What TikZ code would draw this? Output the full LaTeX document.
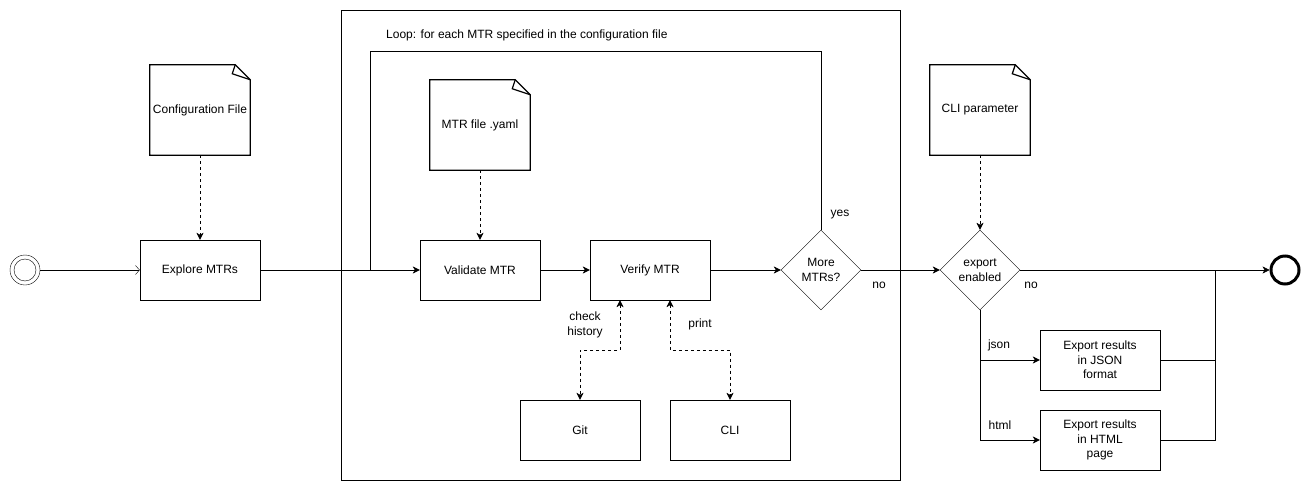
\documentclass[tikz,border=0pt]{standalone}
\usepackage{fontspec}
\setmainfont{Liberation Sans}
\usetikzlibrary{arrows.meta,shapes.geometric,calc}
\newcommand\drawdoc[1]{%
  \draw[line width=1.2pt] (#1.south west) -- (#1.north west) -- ([xshift=-15pt]#1.north east) -- ([yshift=-15pt]#1.north east) -- (#1.south east) -- cycle;
  \draw[line width=1.2pt] ([xshift=-15pt]#1.north east) -- ([xshift=-18pt,yshift=-9pt]#1.north east) -- ([yshift=-15pt]#1.north east);}
\begin{document}
\begin{tikzpicture}[x=1bp,y=-1bp,
  every node/.style={font=\fontsize{12bp}{14.4bp}\selectfont},
  box/.style={draw, minimum width=120bp, minimum height=60bp, inner sep=0pt, align=center},
  doc/.style={minimum width=100bp, minimum height=90bp, inner sep=0pt, align=center},
  dec/.style={draw, diamond, minimum width=80bp, minimum height=80bp, inner sep=0pt},
  lbl/.style={inner sep=0pt, align=center},
  arr/.style={-{Stealth[length=7pt,width=7pt,inset=2pt]}},
  dasharr/.style={dashed, -{Stealth[length=7pt,width=7pt,inset=2pt]}},
  bidash/.style={dashed, {Stealth[length=7pt,width=7pt,inset=2pt]}-{Stealth[length=7pt,width=7pt,inset=2pt]}},
  openarr/.style={-{Straight Barb[length=4pt,width=9pt]}}
]
\useasboundingbox (0,0) rectangle (1311,491);

% loop frame
\node[draw, minimum width=559bp, minimum height=470bp, inner sep=0pt] (frame) at (620.5,245) {};
\node[lbl, anchor=west] (looplbl) at (386,35) {Loop: for each MTR specified in the configuration file};

% start / end
\node[draw, circle, minimum size=30bp, inner sep=0pt] (start) at (25,270) {};
\node[draw, circle, minimum size=22bp, inner sep=0pt] (startin) at (25,270) {};
\node[draw, circle, line width=3pt, minimum size=28bp, inner sep=0pt] (end) at (1285,270) {};

% documents
\node[doc] (cfg) at (200,110) {Configuration File};
\drawdoc{cfg}
\node[doc] (yaml) at (480,125) {MTR file .yaml};
\drawdoc{yaml}
\node[doc] (clip) at (980,110) {CLI parameter};
\drawdoc{clip}

% boxes
\node[box] (explore) at (200,270) {Explore MTRs};
\node[box] (validate) at (480,270) {Validate MTR};
\node[box] (verify) at (650,270) {Verify MTR};
\node[box] (git) at (580,430) {Git};
\node[box] (cli) at (730,430) {CLI};
\node[box] (json) at (1100,360) {Export results\\in JSON\\format};
\node[box] (html) at (1100,440) {Export results\\in HTML\\page};

% decisions
\node[dec] (more) at (821,270) {};
\node[lbl] at (more) {More\\MTRs?};
\node[dec] (export) at (980,270) {};
\node[lbl] at (export) {export\\enabled};

% coordinates
\coordinate (loopTR) at (821,51);
\coordinate (loopTL) at (370,51);
\coordinate (loopJ) at (370,270);
\coordinate (g1) at (620,350);
\coordinate (g2) at (580,350);
\coordinate (c1) at (670,350);
\coordinate (c2) at (730,350);
\coordinate (mj) at (1215,270);

% connectors
\draw[openarr] (start) -- (explore);
\draw[dasharr] (cfg) -- (explore);
\draw[arr] (explore) -- (validate);
\draw (more.north) -- (loopTR) -- (loopTL) -- (loopJ);
\draw[dasharr] (yaml) -- (validate);
\draw[arr] (validate) -- (verify);
\draw[arr] (verify) -- (more);
\draw[arr] (more) -- (export);
\draw[dasharr] (clip) -- (export);
\draw[arr] (export) -- (end);
\draw[bidash] (verify.south -| g1) -- (g1) -- (g2) -- (git.north);
\draw[bidash] (verify.south -| c1) -- (c1) -- (c2) -- (cli.north);
\draw[arr] (export.south) |- (json.west);
\draw[arr] (export.south) |- (html.west);
\draw (json.east) -| (mj);
\draw (html.east) -| (mj);

% labels
\node[lbl] at (840,215) {yes};
\node[lbl] at (879,285) {no};
\node[lbl] at (1031,285) {no};
\node[lbl] at (999,345) {json};
\node[lbl] at (1000,425) {html};
\node[lbl] at (585,325) {check\\history};
\node[lbl] at (700,324) {print};
\end{tikzpicture}
\end{document}
